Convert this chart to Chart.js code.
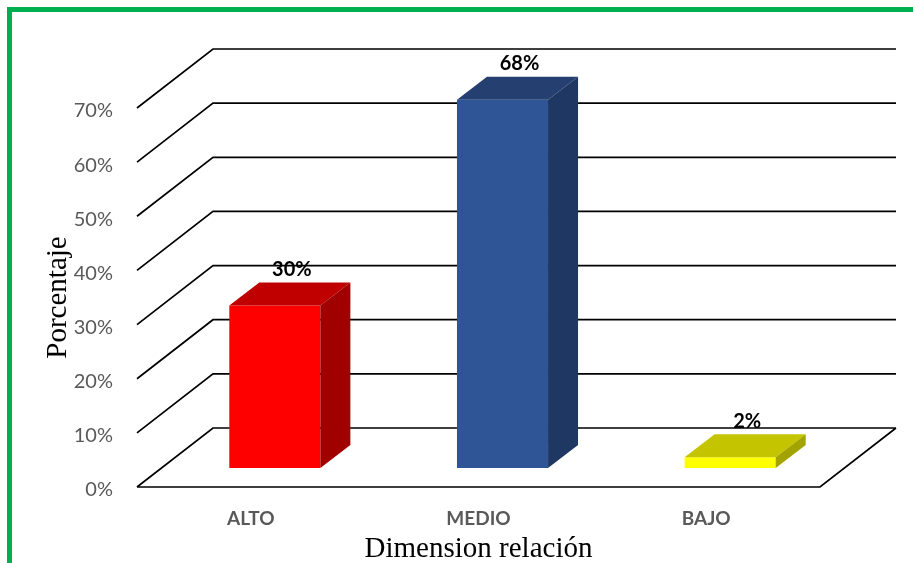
<!DOCTYPE html>
<html lang="es">
<head>
<meta charset="utf-8">
<title>Dimension relación</title>
<script src="https://cdn.jsdelivr.net/npm/chart.js@4.4.1/dist/chart.umd.min.js"></script>
<style>
    html, body { margin: 0; padding: 0; background: #fff; }
    #wrap { position: relative; width: 913px; height: 563px; overflow: hidden; }
    #frame { position: absolute; left: 7px; top: 7px; right: -10px; bottom: -10px;
             border-top: 5px solid #00b050; border-left: 5px solid #00b050; }
    #relacionChart { position: absolute; left: 0; top: 0; }
</style>
</head>
<body>
<div id="wrap">
    <div id="frame"></div>
    <canvas id="relacionChart" width="913" height="563"></canvas>
</div>
<script>
// ========= DATOS ========================================================
const categorias = ['ALTO', 'MEDIO', 'BAJO'];
const porcentajes = [30, 68, 2];
const ticksY = [0, 10, 20, 30, 40, 50, 60, 70];

// colores de cada barra: frente, tapa y costado
const colorFrente = ['#ff0000', '#2f5597', '#ffff00'];
const colorTapa = ['#c00000', '#243f70', '#c4c400'];
const colorLado = ['#a00000', '#1f3763', '#a3a300'];

// profundidad del piso / pared de fondo y de las barras (px)
const FONDO_X = 76, FONDO_Y = -59;
const PLANO_X = 24, PLANO_Y = -19;
const PROF_X = 30, PROF_Y = -23;

// Dibuja la caja 3D (pared y piso) y las caras extra de las barras
const caja3d = {
    id: 'caja3d',
    beforeDatasetsDraw(chart) {
        const { ctx, chartArea: a, scales: { y } } = chart;
        ctx.save();
        ctx.strokeStyle = '#000';
        ctx.lineWidth = 1.7;
        ctx.beginPath();
        ticksY.forEach(v => {
            const yf = y.getPixelForValue(v);
            ctx.moveTo(a.left, yf);
            ctx.lineTo(a.left + FONDO_X, yf + FONDO_Y);
            ctx.lineTo(a.right + FONDO_X, yf + FONDO_Y);
        });
        const y0 = y.getPixelForValue(0);
        ctx.moveTo(a.left, y0);
        ctx.lineTo(a.right, y0);
        ctx.lineTo(a.right + FONDO_X, y0 + FONDO_Y);
        ctx.stroke();
        ctx.restore();

        // las barras van en un plano intermedio entre frente y fondo
        ctx.save();
        ctx.translate(PLANO_X, PLANO_Y);
    },
    afterDatasetsDraw(chart) {
        const { ctx } = chart;
        const meta = chart.getDatasetMeta(0);
        meta.data.forEach((bar, i) => {
            const { x, y, base, width } = bar.getProps(['x', 'y', 'base', 'width'], true);
            const l = x - width / 2, r = x + width / 2;

            ctx.fillStyle = colorTapa[i];
            ctx.beginPath();
            ctx.moveTo(l, y);
            ctx.lineTo(l + PROF_X, y + PROF_Y);
            ctx.lineTo(r + PROF_X, y + PROF_Y);
            ctx.lineTo(r, y);
            ctx.closePath();
            ctx.fill();

            ctx.fillStyle = colorLado[i];
            ctx.beginPath();
            ctx.moveTo(r, y);
            ctx.lineTo(r + PROF_X, y + PROF_Y);
            ctx.lineTo(r + PROF_X, base + PROF_Y);
            ctx.lineTo(r, base);
            ctx.closePath();
            ctx.fill();

            ctx.fillStyle = '#000';
            ctx.font = 'bold 20px Lato';
            ctx.textAlign = 'center';
            ctx.textBaseline = 'middle';
            ctx.fillText(porcentajes[i] + '%', x + PROF_X / 2 + 2, y + PROF_Y - 13);
        });
        ctx.restore();
    }
};

document.addEventListener('DOMContentLoaded', function () {
    const relacionCtx = document.getElementById('relacionChart').getContext('2d');
    const relacionChart = new Chart(relacionCtx, {
        type: 'bar',
        data: {
            labels: categorias,
            datasets: [{
                label: 'Porcentaje',
                data: porcentajes,
                backgroundColor: colorFrente,
                borderWidth: 0,
                categoryPercentage: 1,
                barPercentage: 0.4,
                clip: false
            }]
        },
        options: {
            responsive: false,
            animation: false,
            layout: { padding: { top: 108, right: 93, bottom: 0, left: 0 } },
            plugins: {
                legend: { display: false },
                tooltip: { enabled: false }
            },
            scales: {
                x: {
                    grid: { display: false, drawTicks: false },
                    border: { display: false },
                    ticks: {
                        color: '#595959',
                        font: { family: 'Lato', size: 19, weight: 'bold' },
                        padding: 20
                    },
                    title: {
                        display: true,
                        text: 'Dimension relación',
                        color: '#000',
                        font: { family: 'Liberation Serif', size: 29 },
                        padding: { top: 0, bottom: -4 }
                    },
                    afterFit(scale) { scale.height = 76; }
                },
                y: {
                    min: 0,
                    max: 70,
                    afterBuildTicks(scale) { scale.ticks = ticksY.map(v => ({ value: v })); },
                    grid: { display: false, drawTicks: false },
                    border: { display: false },
                    ticks: {
                        color: '#595959',
                        font: { family: 'Lato', size: 20 },
                        padding: 24,
                        labelOffset: 3,
                        callback: v => v + '%'
                    },
                    title: {
                        display: true,
                        text: 'Porcentaje',
                        color: '#000',
                        font: { family: 'Liberation Serif', size: 29 },
                        padding: { top: 41, bottom: 0 }
                    },
                    afterFit(scale) { scale.width = 137; }
                }
            }
        },
        plugins: [caja3d]
    });
});
</script>
</body>
</html>
